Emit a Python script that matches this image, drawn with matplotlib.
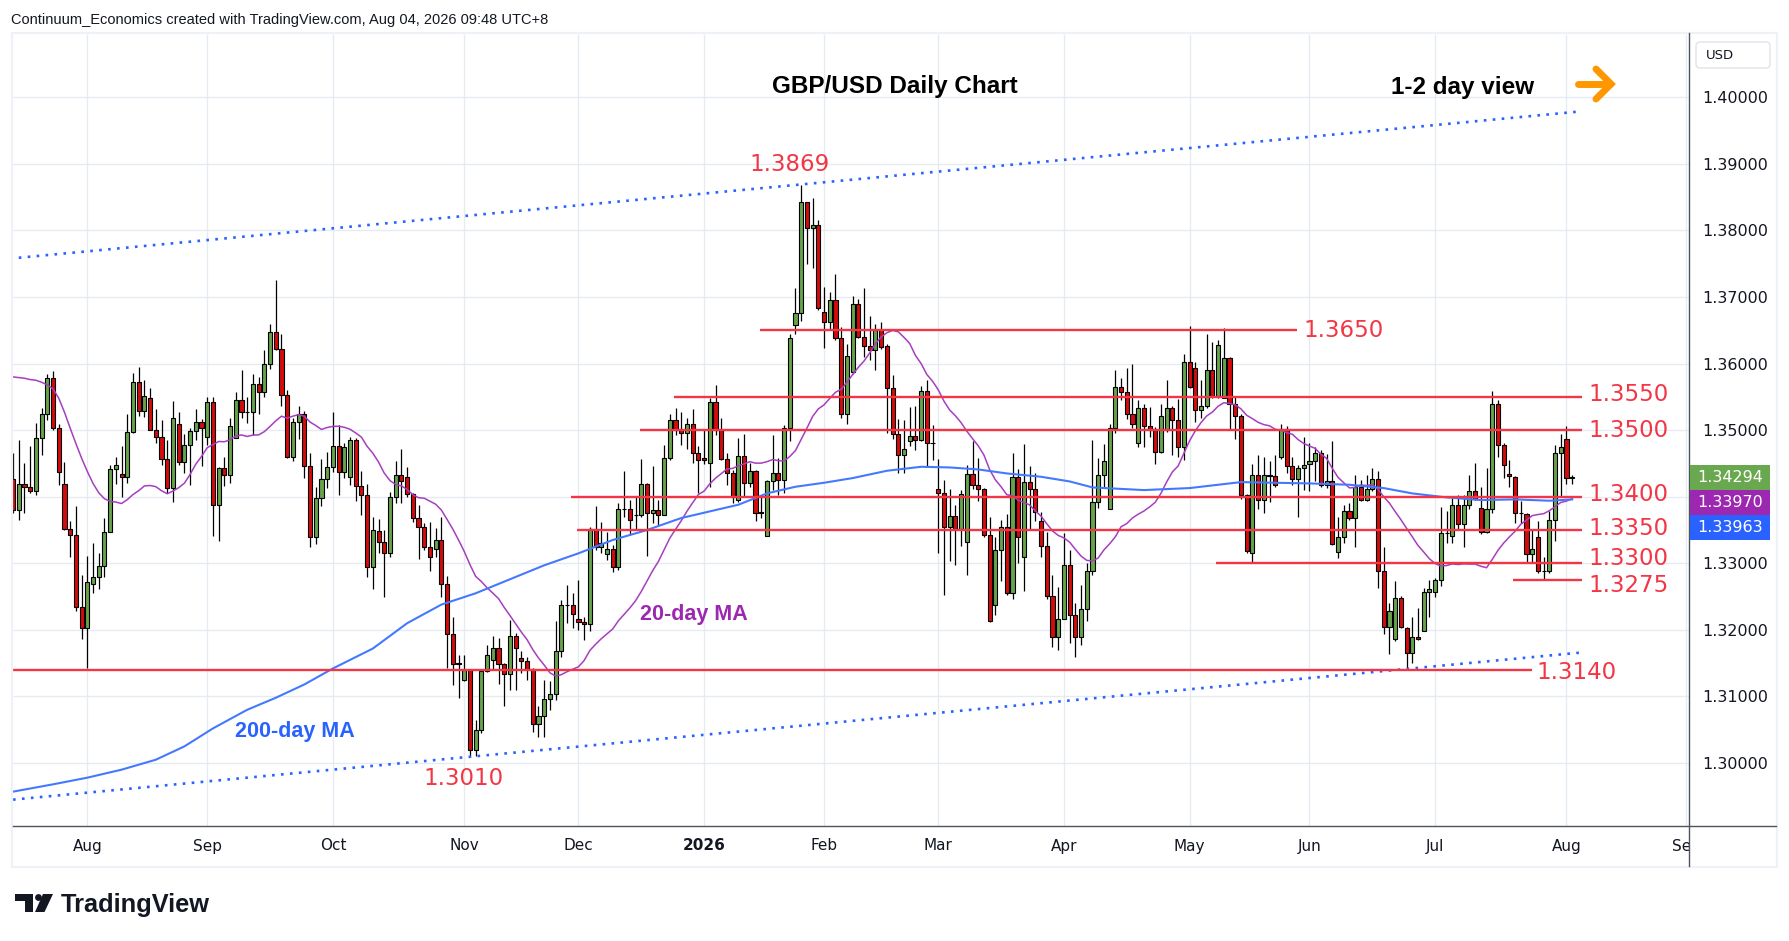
import numpy as np
import pandas as pd
import matplotlib
matplotlib.use("Agg")
import matplotlib.pyplot as plt
from matplotlib.patches import Rectangle, FancyBboxPatch, Polygon, Circle

# ---------------- data ----------------
opens = [
    1.3426, 1.3380, 1.3419, 1.3414, 1.3408, 1.3488, 1.3525, 1.3578, 1.3504, 1.3419,
    1.3351, 1.3342, 1.3234, 1.3203, 1.3269, 1.3280, 1.3296, 1.3347, 1.3441, 1.3434,
    1.3430, 1.3497, 1.3573, 1.3529, 1.3548, 1.3501, 1.3489, 1.3456, 1.3413, 1.3510,
    1.3452, 1.3477, 1.3498, 1.3512, 1.3489, 1.3543, 1.3387, 1.3443, 1.3432, 1.3488,
    1.3545, 1.3527, 1.3527, 1.3570, 1.3557, 1.3599, 1.3647, 1.3622, 1.3553, 1.3460,
    1.3512, 1.3524, 1.3446, 1.3340, 1.3398, 1.3426, 1.3445, 1.3476, 1.3437, 1.3430,
    1.3485, 1.3416, 1.3402, 1.3294, 1.3349, 1.3332, 1.3315, 1.3399, 1.3432, 1.3430,
    1.3404, 1.3368, 1.3354, 1.3324, 1.3322, 1.3335, 1.3269, 1.3194, 1.3150, 1.3125,
    1.3139, 1.3020, 1.3050, 1.3138, 1.3155, 1.3173, 1.3149, 1.3133, 1.3191, 1.3158,
    1.3154, 1.3141, 1.3058, 1.3070, 1.3096, 1.3104, 1.3168, 1.3238, 1.3238, 1.3217,
    1.3212, 1.3209, 1.3351, 1.3324, 1.3314, 1.3321, 1.3294, 1.3382, 1.3382, 1.3372,
    1.3372, 1.3419, 1.3375, 1.3380, 1.3372, 1.3458, 1.3516, 1.3501, 1.3495, 1.3510,
    1.3466, 1.3458, 1.3450, 1.3542, 1.3500, 1.3456, 1.3435, 1.3395, 1.3461, 1.3420,
    1.3438, 1.3377, 1.3341, 1.3424, 1.3436, 1.3425, 1.3503, 1.3658, 1.3676, 1.3842,
    1.3804, 1.3808, 1.3678, 1.3663, 1.3695, 1.3639, 1.3524, 1.3587, 1.3690, 1.3640,
    1.3627, 1.3620, 1.3651, 1.3626, 1.3564, 1.3494, 1.3462, 1.3483, 1.3491, 1.3485,
    1.3559, 1.3480, 1.3412, 1.3405, 1.3354, 1.3371, 1.3352, 1.3332, 1.3434, 1.3417,
    1.3411, 1.3342, 1.3238, 1.3320, 1.3354, 1.3256, 1.3429, 1.3309, 1.3422, 1.3411,
    1.3363, 1.3326, 1.3251, 1.3190, 1.3217, 1.3298, 1.3223, 1.3190, 1.3231, 1.3288,
    1.3392, 1.3432, 1.3381, 1.3504, 1.3565, 1.3557, 1.3525, 1.3480, 1.3533, 1.3507,
    1.3500, 1.3467, 1.3500, 1.3533, 1.3516, 1.3475, 1.3603, 1.3594, 1.3530, 1.3537,
    1.3591, 1.3551, 1.3549, 1.3609, 1.3539, 1.3522, 1.3402, 1.3315, 1.3432, 1.3395,
    1.3432, 1.3431, 1.3459, 1.3502, 1.3446, 1.3426, 1.3443, 1.3449, 1.3454, 1.3465,
    1.3417, 1.3423, 1.3317, 1.3339, 1.3378, 1.3368, 1.3415, 1.3395, 1.3412, 1.3426,
    1.3289, 1.3205, 1.3186, 1.3248, 1.3203, 1.3165, 1.3189, 1.3198, 1.3257, 1.3257,
    1.3275, 1.3345, 1.3341, 1.3388, 1.3359, 1.3388, 1.3408, 1.3383, 1.3347, 1.3381,
    1.3539, 1.3478, 1.3434, 1.3430, 1.3376, 1.3374, 1.3314, 1.3340, 1.3289, 1.3289,
    1.3365, 1.3465, 1.3486, 1.3428,
]
highs = [
    1.3466, 1.3485, 1.3450, 1.3476, 1.3511, 1.3534, 1.3585, 1.3589, 1.3510, 1.3452,
    1.3364, 1.3386, 1.3283, 1.3311, 1.3330, 1.3316, 1.3368, 1.3448, 1.3460, 1.3476,
    1.3525, 1.3586, 1.3595, 1.3575, 1.3564, 1.3532, 1.3515, 1.3485, 1.3544, 1.3528,
    1.3494, 1.3503, 1.3532, 1.3517, 1.3550, 1.3550, 1.3445, 1.3460, 1.3519, 1.3557,
    1.3590, 1.3550, 1.3584, 1.3580, 1.3620, 1.3660, 1.3726, 1.3645, 1.3560, 1.3519,
    1.3536, 1.3529, 1.3466, 1.3414, 1.3456, 1.3467, 1.3527, 1.3508, 1.3480, 1.3489,
    1.3488, 1.3439, 1.3419, 1.3370, 1.3366, 1.3350, 1.3407, 1.3454, 1.3472, 1.3444,
    1.3406, 1.3387, 1.3360, 1.3362, 1.3353, 1.3369, 1.3281, 1.3220, 1.3163, 1.3163,
    1.3140, 1.3065, 1.3140, 1.3178, 1.3191, 1.3188, 1.3150, 1.3215, 1.3196, 1.3168,
    1.3160, 1.3143, 1.3085, 1.3124, 1.3123, 1.3213, 1.3245, 1.3268, 1.3255, 1.3275,
    1.3220, 1.3354, 1.3386, 1.3362, 1.3347, 1.3328, 1.3390, 1.3439, 1.3395, 1.3401,
    1.3456, 1.3420, 1.3446, 1.3395, 1.3478, 1.3524, 1.3534, 1.3527, 1.3518, 1.3532,
    1.3476, 1.3501, 1.3548, 1.3568, 1.3518, 1.3465, 1.3440, 1.3488, 1.3494, 1.3450,
    1.3440, 1.3402, 1.3425, 1.3493, 1.3458, 1.3508, 1.3645, 1.3714, 1.3869, 1.3843,
    1.3848, 1.3815, 1.3715, 1.3708, 1.3734, 1.3655, 1.3630, 1.3701, 1.3697, 1.3714,
    1.3671, 1.3659, 1.3662, 1.3629, 1.3583, 1.3517, 1.3515, 1.3535, 1.3536, 1.3566,
    1.3575, 1.3508, 1.3457, 1.3425, 1.3411, 1.3388, 1.3410, 1.3448, 1.3484, 1.3458,
    1.3413, 1.3370, 1.3340, 1.3365, 1.3374, 1.3466, 1.3441, 1.3479, 1.3446, 1.3435,
    1.3377, 1.3347, 1.3282, 1.3264, 1.3345, 1.3320, 1.3240, 1.3268, 1.3300, 1.3485,
    1.3458, 1.3479, 1.3509, 1.3590, 1.3579, 1.3594, 1.3599, 1.3545, 1.3539, 1.3535,
    1.3505, 1.3540, 1.3576, 1.3536, 1.3547, 1.3614, 1.3657, 1.3603, 1.3575, 1.3645,
    1.3633, 1.3636, 1.3653, 1.3610, 1.3550, 1.3525, 1.3404, 1.3449, 1.3462, 1.3460,
    1.3454, 1.3462, 1.3509, 1.3506, 1.3460, 1.3448, 1.3489, 1.3480, 1.3475, 1.3470,
    1.3464, 1.3484, 1.3370, 1.3388, 1.3390, 1.3433, 1.3425, 1.3433, 1.3443, 1.3439,
    1.3324, 1.3240, 1.3274, 1.3251, 1.3205, 1.3219, 1.3233, 1.3263, 1.3275, 1.3278,
    1.3385, 1.3378, 1.3398, 1.3403, 1.3403, 1.3432, 1.3451, 1.3415, 1.3443, 1.3559,
    1.3545, 1.3481, 1.3455, 1.3431, 1.3394, 1.3375, 1.3350, 1.3363, 1.3310, 1.3379,
    1.3478, 1.3494, 1.3506, 1.3432,
]
lows = [
    1.3375, 1.3365, 1.3375, 1.3405, 1.3403, 1.3462, 1.3516, 1.3500, 1.3417, 1.3350,
    1.3309, 1.3229, 1.3186, 1.3142, 1.3255, 1.3261, 1.3280, 1.3347, 1.3419, 1.3400,
    1.3421, 1.3495, 1.3522, 1.3520, 1.3500, 1.3480, 1.3448, 1.3405, 1.3392, 1.3447,
    1.3435, 1.3417, 1.3485, 1.3446, 1.3478, 1.3341, 1.3334, 1.3416, 1.3420, 1.3488,
    1.3519, 1.3511, 1.3493, 1.3525, 1.3550, 1.3592, 1.3620, 1.3536, 1.3458, 1.3454,
    1.3487, 1.3428, 1.3324, 1.3329, 1.3386, 1.3413, 1.3437, 1.3402, 1.3428, 1.3418,
    1.3393, 1.3372, 1.3280, 1.3262, 1.3316, 1.3249, 1.3310, 1.3390, 1.3391, 1.3400,
    1.3362, 1.3306, 1.3320, 1.3288, 1.3310, 1.3249, 1.3142, 1.3117, 1.3098, 1.3123,
    1.3011, 1.3010, 1.3045, 1.3136, 1.3140, 1.3118, 1.3086, 1.3110, 1.3109, 1.3135,
    1.3125, 1.3047, 1.3039, 1.3039, 1.3080, 1.3095, 1.3160, 1.3210, 1.3203, 1.3200,
    1.3185, 1.3199, 1.3320, 1.3315, 1.3305, 1.3287, 1.3290, 1.3370, 1.3342, 1.3352,
    1.3370, 1.3311, 1.3360, 1.3358, 1.3372, 1.3455, 1.3493, 1.3478, 1.3471, 1.3450,
    1.3406, 1.3449, 1.3415, 1.3493, 1.3455, 1.3417, 1.3391, 1.3392, 1.3400, 1.3415,
    1.3363, 1.3368, 1.3341, 1.3410, 1.3403, 1.3405, 1.3484, 1.3644, 1.3664, 1.3749,
    1.3744, 1.3680, 1.3624, 1.3651, 1.3636, 1.3519, 1.3510, 1.3585, 1.3638, 1.3610,
    1.3605, 1.3590, 1.3622, 1.3495, 1.3486, 1.3435, 1.3435, 1.3476, 1.3470, 1.3484,
    1.3445, 1.3455, 1.3315, 1.3253, 1.3304, 1.3298, 1.3326, 1.3283, 1.3411, 1.3394,
    1.3339, 1.3212, 1.3222, 1.3274, 1.3253, 1.3247, 1.3300, 1.3258, 1.3351, 1.3363,
    1.3310, 1.3247, 1.3175, 1.3170, 1.3216, 1.3180, 1.3160, 1.3178, 1.3213, 1.3283,
    1.3383, 1.3413, 1.3381, 1.3496, 1.3545, 1.3517, 1.3504, 1.3475, 1.3475, 1.3490,
    1.3449, 1.3465, 1.3497, 1.3462, 1.3460, 1.3455, 1.3564, 1.3513, 1.3518, 1.3533,
    1.3549, 1.3548, 1.3548, 1.3501, 1.3486, 1.3396, 1.3315, 1.3302, 1.3381, 1.3376,
    1.3392, 1.3414, 1.3456, 1.3435, 1.3418, 1.3369, 1.3410, 1.3409, 1.3423, 1.3414,
    1.3413, 1.3328, 1.3308, 1.3331, 1.3365, 1.3325, 1.3393, 1.3394, 1.3408, 1.3263,
    1.3194, 1.3164, 1.3184, 1.3203, 1.3142, 1.3151, 1.3185, 1.3198, 1.3220, 1.3250,
    1.3266, 1.3330, 1.3330, 1.3350, 1.3324, 1.3381, 1.3395, 1.3344, 1.3345, 1.3376,
    1.3460, 1.3428, 1.3414, 1.3360, 1.3360, 1.3301, 1.3300, 1.3286, 1.3275, 1.3286,
    1.3334, 1.3400, 1.3419, 1.3419,
]
closes = [
    1.3380, 1.3419, 1.3414, 1.3408, 1.3488, 1.3525, 1.3578, 1.3504, 1.3437, 1.3351,
    1.3342, 1.3234, 1.3203, 1.3272, 1.3280, 1.3296, 1.3347, 1.3441, 1.3447, 1.3430,
    1.3497, 1.3573, 1.3529, 1.3551, 1.3501, 1.3489, 1.3456, 1.3413, 1.3519, 1.3452,
    1.3477, 1.3498, 1.3512, 1.3503, 1.3543, 1.3387, 1.3443, 1.3432, 1.3506, 1.3545,
    1.3527, 1.3528, 1.3570, 1.3557, 1.3599, 1.3647, 1.3622, 1.3553, 1.3460, 1.3512,
    1.3524, 1.3446, 1.3340, 1.3398, 1.3426, 1.3445, 1.3476, 1.3437, 1.3475, 1.3485,
    1.3416, 1.3402, 1.3294, 1.3350, 1.3332, 1.3315, 1.3399, 1.3432, 1.3423, 1.3404,
    1.3368, 1.3354, 1.3324, 1.3309, 1.3335, 1.3269, 1.3194, 1.3148, 1.3149, 1.3139,
    1.3020, 1.3050, 1.3138, 1.3163, 1.3173, 1.3149, 1.3133, 1.3191, 1.3173, 1.3154,
    1.3141, 1.3058, 1.3070, 1.3096, 1.3104, 1.3168, 1.3238, 1.3237, 1.3224, 1.3212,
    1.3209, 1.3351, 1.3324, 1.3330, 1.3321, 1.3294, 1.3381, 1.3381, 1.3365, 1.3372,
    1.3419, 1.3375, 1.3380, 1.3372, 1.3458, 1.3516, 1.3501, 1.3495, 1.3510, 1.3466,
    1.3455, 1.3455, 1.3542, 1.3500, 1.3456, 1.3435, 1.3399, 1.3461, 1.3420, 1.3438,
    1.3375, 1.3376, 1.3423, 1.3436, 1.3425, 1.3503, 1.3638, 1.3676, 1.3842, 1.3804,
    1.3808, 1.3683, 1.3662, 1.3695, 1.3639, 1.3524, 1.3611, 1.3690, 1.3640, 1.3627,
    1.3620, 1.3651, 1.3625, 1.3564, 1.3494, 1.3462, 1.3471, 1.3491, 1.3485, 1.3559,
    1.3480, 1.3480, 1.3405, 1.3354, 1.3371, 1.3352, 1.3404, 1.3434, 1.3417, 1.3411,
    1.3342, 1.3213, 1.3320, 1.3354, 1.3256, 1.3429, 1.3340, 1.3422, 1.3411, 1.3377,
    1.3326, 1.3251, 1.3190, 1.3217, 1.3298, 1.3223, 1.3190, 1.3231, 1.3288, 1.3392,
    1.3432, 1.3454, 1.3504, 1.3565, 1.3557, 1.3525, 1.3510, 1.3533, 1.3507, 1.3500,
    1.3467, 1.3522, 1.3533, 1.3516, 1.3475, 1.3603, 1.3565, 1.3530, 1.3537, 1.3591,
    1.3551, 1.3628, 1.3609, 1.3539, 1.3522, 1.3402, 1.3318, 1.3432, 1.3395, 1.3432,
    1.3431, 1.3418, 1.3502, 1.3446, 1.3426, 1.3443, 1.3448, 1.3454, 1.3465, 1.3417,
    1.3423, 1.3329, 1.3339, 1.3378, 1.3368, 1.3415, 1.3395, 1.3412, 1.3426, 1.3289,
    1.3205, 1.3228, 1.3248, 1.3205, 1.3165, 1.3189, 1.3186, 1.3257, 1.3262, 1.3275,
    1.3345, 1.3346, 1.3388, 1.3359, 1.3388, 1.3408, 1.3396, 1.3347, 1.3381, 1.3539,
    1.3478, 1.3448, 1.3431, 1.3375, 1.3375, 1.3314, 1.3321, 1.3289, 1.3288, 1.3365,
    1.3465, 1.3474, 1.3428, 1.34294,
]
first_day, last_day = "2025-07-15", "2026-08-04"
holidays = ["2025-12-25", "2026-01-01"]

# 20-day MA values before 20 closes are available
ma20_head = [1.3580, 1.3579, 1.3578, 1.3576, 1.3575, 1.3572, 1.3568, 1.3562, 1.3548, 1.3527,
             1.3503, 1.3480, 1.3458, 1.3438, 1.3420, 1.3406, 1.3397, 1.3393, 1.3392]
# 200-day MA read at these bars (1-based bar numbers)
ma200_bar = [1, 8, 14, 20, 26, 31, 36, 42, 47, 52, 57, 64, 70, 76, 82, 88, 94, 100, 106, 112,
             118, 124, 128, 133, 138, 143, 148, 154, 160, 165, 170, 175, 181, 186, 190, 199,
             207, 216, 222, 228, 235, 241, 246, 252, 258, 264, 270, 274]
ma200_val = [1.2957, 1.2968, 1.2978, 1.2990, 1.3005, 1.3025, 1.3052, 1.3080, 1.3098, 1.3118,
             1.3142, 1.3172, 1.3210, 1.3238, 1.3255, 1.3276, 1.3297, 1.3315, 1.3335, 1.3350,
             1.3368, 1.3380, 1.3388, 1.3405, 1.3415, 1.3421, 1.3428, 1.3439, 1.3445, 1.3444,
             1.3441, 1.3435, 1.3430, 1.3423, 1.3414, 1.3410, 1.3413, 1.3422, 1.3421, 1.3420,
             1.3418, 1.3413, 1.3405, 1.3399, 1.3395, 1.3396, 1.3394, 1.3396]

level_values = [1.3650, 1.3550, 1.3500, 1.3400, 1.3350, 1.3300, 1.3275, 1.3140]
level_texts = ["1.3650", "1.3550", "1.3500", "1.3400", "1.3350", "1.3300", "1.3275", "1.3140"]
peak_text, trough_text = "1.3869", "1.3010"
channel_upper = [1.3759, 1.3979]
channel_lower = [1.2945, 1.3166]
last_price, ma20_last, ma200_last = 1.34294, 1.33970, 1.33963
price_ticks = [1.30, 1.31, 1.32, 1.33, 1.34, 1.35, 1.36, 1.37, 1.38, 1.39, 1.40]

# ---------------- layout / style ----------------
W, H = 1789, 941
PL, PR, PT, PB = 13, 1689, 34, 826
YTOP, YBOT = 1.40951, 1.29054
XLO, XHI = -0.01, 293.45
LBL_DY = -0.00035
level_span = [(130.8, 224.8), (115.7, 274.7), (109.8, 274.7), (97.7, 274.7),
              (98.8, 274.7), (210.6, 274.7), (262.7, 274.7), (XLO, 266.0)]
level_text_pos = [(226.0, 1.3653), (275.8, 1.35578), (275.8, 1.35037), (275.8, 1.34066),
                  (275.8, 1.3356), (275.8, 1.3310), (275.8, 1.3270), (266.8, 1.31397)]
channel_x_upper = [1.0, 274.7]
channel_x_lower = [XLO, 274.6]

GREEN = "#67a34b"
RED = "#d40b0b"
LEVEL_RED = "#f23645"
PURPLE = "#a63fbe"
BLUE = "#4479ff"
GRID = "#e6ebf1"
TXT = "#131722"
AXIS = "#50535e"

fig = plt.figure(figsize=(W / 100, H / 100), dpi=100)
fig.patch.set_facecolor("white")
ax = fig.add_axes([PL / W, 1 - PB / H, (PR - PL) / W, (PB - PT) / H])
ax.set_facecolor("white")
for s in ax.spines.values():
    s.set_visible(False)

dates = pd.bdate_range(first_day, last_day)
dates = dates[~dates.isin(pd.to_datetime(holidays))]
n = len(closes)
future = pd.bdate_range(dates[-1] + pd.Timedelta(days=1), "2026-09-30")
all_dates = dates.append(future)
tick_pos, tick_lab = [], []
for i in range(1, len(all_dates)):
    if all_dates[i].month != all_dates[i - 1].month and i <= XHI:
        tick_pos.append(i)
        tick_lab.append("2026" if all_dates[i].month == 1 else all_dates[i].strftime("%b"))

# grid
ax.vlines(tick_pos, YBOT, YTOP, color=GRID, lw=1.0, zorder=0)
ax.hlines(price_ticks, XLO, XHI, color=GRID, lw=1.0, zorder=0)

# candles
x = np.arange(n)
o = np.array(opens); h = np.array(highs); l = np.array(lows); c = np.array(closes)
up = c >= o
ax.vlines(x, l, h, color="black", lw=0.9, zorder=3)
body_lo = np.minimum(o, c)
body_h = np.maximum(np.abs(c - o), 0.00007)
ax.bar(x, body_h, bottom=body_lo, width=0.72, color=np.where(up, GREEN, RED),
       edgecolor="black", linewidth=0.8, zorder=4)

# moving averages
ma20 = pd.Series(closes).rolling(20).mean().to_numpy()
ma20[:19] = ma20_head
ax.plot(x, ma20, color=PURPLE, lw=1.1, zorder=5)
ax.plot(np.array(ma200_bar) - 1, ma200_val, color=BLUE, lw=1.5, zorder=5)

# channel (dotted)
ax.plot(channel_x_upper, channel_upper, color="#2962ff", lw=1.9, ls=(0, (1, 2.4)), zorder=6)
ax.plot(channel_x_lower, channel_lower, color="#2962ff", lw=1.9, ls=(0, (1, 2.4)), zorder=6)

# levels
for v, (s0, s1), t, (tx, ty) in zip(level_values, level_span, level_texts, level_text_pos):
    ax.hlines(v, s0, s1, color=LEVEL_RED, lw=1.7, zorder=6)
    ax.text(tx, ty + LBL_DY, t, color=LEVEL_RED, fontsize=16.5, family="DejaVu Sans",
            ha="left", va="center", zorder=7, clip_on=False)
ax.text(135.9, 1.3899, peak_text, color=LEVEL_RED, fontsize=16.5, family="DejaVu Sans",
        ha="center", va="center", zorder=7)
ax.text(78.8, 1.2977, trough_text, color=LEVEL_RED, fontsize=16.5, family="DejaVu Sans",
        ha="center", va="center", zorder=7)
ax.text(119.2, 1.3223, "20-day MA", color="#9c27b0", fontsize=15.5, family="Liberation Sans",
        fontweight="bold", ha="center", va="center", zorder=7)
ax.text(49.4, 1.3048, "200-day MA", color="#2962ff", fontsize=15.5, family="Liberation Sans",
        fontweight="bold", ha="center", va="center", zorder=7)

# ticks
ax.set_xticks(tick_pos)
ax.set_xticklabels(tick_lab)
for lab in ax.get_xticklabels():
    lab.set_family("DejaVu Sans")
    if lab.get_text() == "2026":
        lab.set_fontweight("bold")
ax.tick_params(axis="x", length=0, pad=9, labelsize=11, labelcolor=TXT)
ax.yaxis.tick_right()
ax.set_yticks(price_ticks)
ax.set_yticklabels(["" if abs(p - 1.34) < 1e-9 else f"{p:.5f}" for p in price_ticks])
ax.tick_params(axis="y", length=0, pad=9.4, labelsize=11.5, labelcolor=TXT)
ax.set_xlim(XLO, XHI)
ax.set_ylim(YBOT, YTOP)

# ---------------- overlay in pixel coordinates ----------------
ov = fig.add_axes([0, 0, 1, 1], zorder=10)
ov.set_xlim(0, W)
ov.set_ylim(H, 0)
ov.axis("off")
ov.patch.set_alpha(0)


def p2y(p):
    return PT + (YTOP - p) / (YTOP - YBOT) * (PB - PT)


# cover beyond separator in the time-axis strip
ov.add_patch(Rectangle((PR + 0.5, PB + 1), 1776 - PR - 0.5, 866 - PB - 1, facecolor="white",
                       edgecolor="none", zorder=1))
# panel frame
ov.add_patch(Rectangle((12, 33), 1765, 834, facecolor="none", edgecolor="#eef1f5", lw=1.6, zorder=2))
# axis lines
ov.plot([PL, 1776], [PB, PB], color=AXIS, lw=1.0, zorder=3)
ov.plot([PR, PR], [33, 866], color=AXIS, lw=1.0, zorder=3)

# price boxes
gy = p2y(last_price)
for k, (val, colr) in enumerate([(last_price, "#6aa84f"), (ma20_last, "#9c27b0"), (ma200_last, "#2962ff")]):
    cy = gy + 25 * k
    ov.add_patch(Rectangle((1690, cy - 12.5), 80, 25, facecolor=colr, edgecolor="none", zorder=4))
    ov.text(1730, cy, f"{val:.5f}", color="white", fontsize=11.5, family="DejaVu Sans",
            ha="center", va="center", zorder=5)

# currency box
ov.add_patch(FancyBboxPatch((1696, 42), 74, 26, boxstyle="round,pad=0,rounding_size=4",
                            facecolor="white", edgecolor="#e0e3eb", lw=1.0, zorder=4))
ov.text(1706, 55, "USD", color=TXT, fontsize=9.5, family="DejaVu Sans", ha="left",
        va="center", zorder=5)

# header texts
ov.text(11, 20, "Continuum_Economics created with TradingView.com, Aug 04, 2026 09:48 UTC+8",
        color=TXT, fontsize=10.5, family="Liberation Sans", ha="left", va="center")
ov.text(895, 86, "GBP/USD Daily Chart", color="black", fontsize=17.5, family="Liberation Sans",
        fontweight="bold", ha="center", va="center", zorder=5)
ov.text(1463, 87.5, "1-2 day view", color="black", fontsize=17.5, family="Liberation Sans",
        fontweight="bold", ha="center", va="center", zorder=5)
# orange arrow
ov.plot([1578, 1610], [84, 84], color="#ff9800", lw=5, solid_capstyle="round", zorder=5)
ov.plot([1596, 1611, 1596], [69, 84, 99], color="#ff9800", lw=5, solid_capstyle="round",
        solid_joinstyle="miter", zorder=5)

# TradingView logo
ov.add_patch(Rectangle((15, 894), 18, 6.5, facecolor="#131722", edgecolor="none", zorder=5))
ov.add_patch(Rectangle((25, 894), 8, 18, facecolor="#131722", edgecolor="none", zorder=5))
ov.add_patch(Circle((38.5, 897.5), 3.4, facecolor="#131722", edgecolor="none", zorder=5))
ov.add_patch(Polygon([(43, 894), (53, 894), (44.5, 912), (35, 912)], closed=True,
                     facecolor="#131722", edgecolor="none", zorder=5))
ov.text(61, 905, "TradingView", color="#131722", fontsize=18.3, family="Liberation Sans",
        fontweight="bold", ha="left", va="center", zorder=5)

fig.savefig("out.png", dpi=100, facecolor="white")
